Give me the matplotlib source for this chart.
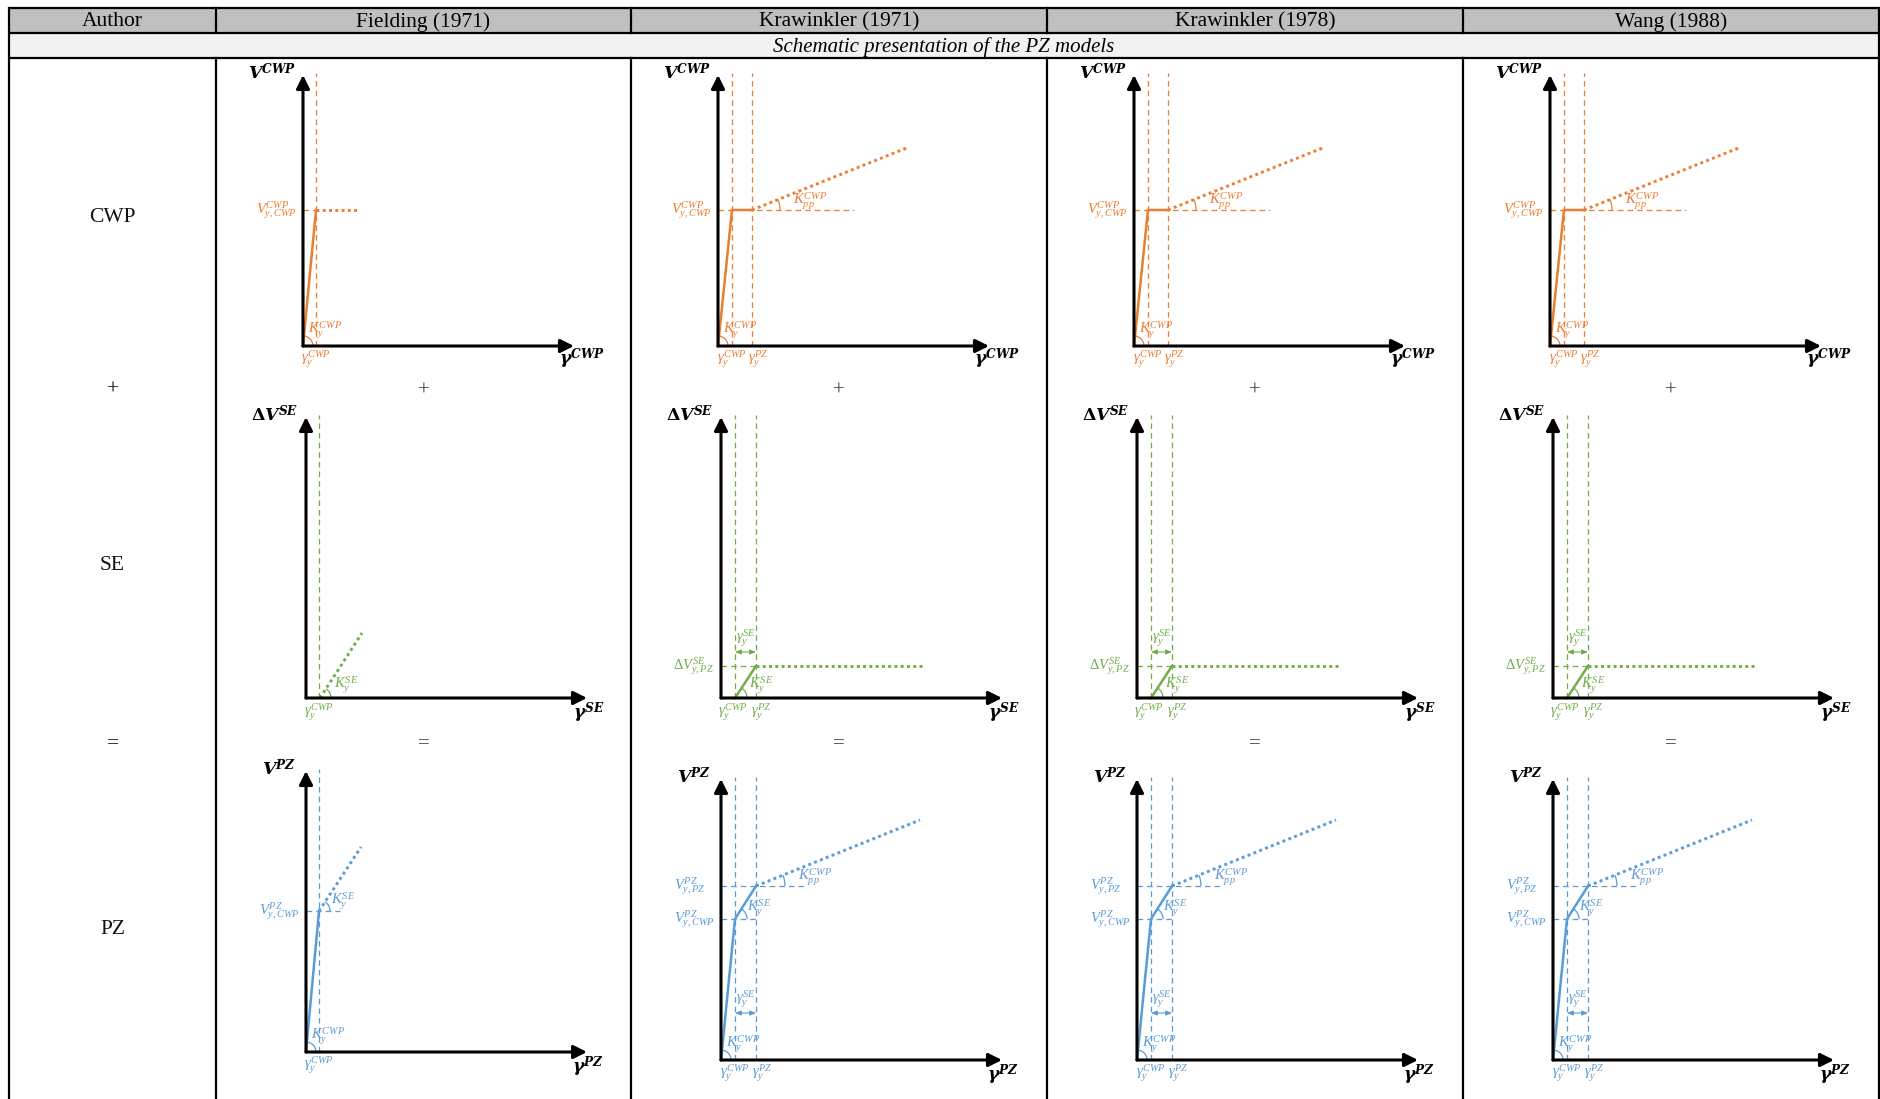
import matplotlib
matplotlib.use("Agg")
import matplotlib.pyplot as plt
import numpy as np
from matplotlib.patches import Arc, Rectangle

plt.rcParams['mathtext.fontset'] = 'custom'
plt.rcParams['mathtext.it'] = 'Liberation Serif:italic'
plt.rcParams['mathtext.rm'] = 'Liberation Serif'
plt.rcParams['mathtext.bf'] = 'DejaVu Serif:bold'
plt.rcParams['mathtext.bfit'] = 'DejaVu Serif:italic:bold'

# ---------------- data (schematic units) ----------------
authors = ["Fielding (1971)", "Krawinkler (1971)", "Krawinkler (1978)", "Wang (1988)"]
row_names = ["CWP", "+", "SE", "=", "PZ"]
subtitle = "Schematic presentation of the PZ models"

# CWP component
cwp_gy = [13, 14, 14, 14]
cwp_gpz = [None, 34, 34, 34]
cwp_vy = [136, 136, 136, 136]
cwp_solid_x = [[0, 13], [0, 14, 34], [0, 14, 34], [0, 14, 34]]
cwp_solid_y = [[0, 136], [0, 136, 136], [0, 136, 136], [0, 136, 136]]
cwp_dot_x = [[13, 54], [34, 191], [34, 191], [34, 191]]
cwp_dot_y = [[136, 136], [136, 199], [136, 199], [136, 199]]
cwp_href_end = [13, 136, 136, 136]

# SE component
se_gy = [13, 14, 14, 14]
se_gpz = [None, 35, 35, 35]
se_vy = [None, 32, 32, 32]
se_solid_x = [[], [14, 35], [14, 35], [14, 35]]
se_solid_y = [[], [0, 32], [0, 32], [0, 32]]
se_dot_x = [[14, 56], [35, 201], [35, 201], [35, 201]]
se_dot_y = [[0, 65], [32, 32], [32, 32], [32, 32]]

# PZ component
pz_gy = [13, 14, 14, 14]
pz_gpz = [None, 35, 35, 35]
pz_vy_cwp = [141, 141, 141, 141]
pz_vy_pz = [None, 174, 174, 174]
pz_solid_x = [[0, 13], [0, 14, 35], [0, 14, 35], [0, 14, 35]]
pz_solid_y = [[0, 141], [0, 141, 174], [0, 141, 174], [0, 141, 174]]
pz_dot_x = [[13, 55], [35, 199], [35, 199], [35, 199]]
pz_dot_y = [[141, 205], [174, 240], [174, 240], [174, 240]]
pz_href_cwp_end = [34, 35, 35, 35]
pz_href_pz_end = [None, 84, 84, 84]

# ---------------- layout ----------------
W, H = 1881, 1099
col_edges = [9, 216, 631, 1047, 1463, 1879]
row_edges = [8, 33, 58]
cwp_origin_y = 346
se_origin_y = 698
pz_origin_y = [1052, 1060, 1060, 1060]
cwp_dx, se_dx, pz_dx = 87, 90, 90

ORANGE = '#ED7D31'
GREEN = '#70AD47'
BLUE = '#5B9BD5'
SERIF = 'Liberation Serif'

fig = plt.figure(figsize=(W / 100, H / 100), dpi=100)
fig.patch.set_facecolor('white')
bg = fig.add_axes([0, 0, 1, 1])
bg.set_xlim(0, W)
bg.set_ylim(H, 0)
bg.axis('off')

# table
bg.add_patch(Rectangle((col_edges[0], row_edges[0]), col_edges[-1] - col_edges[0],
                       row_edges[1] - row_edges[0], facecolor='#BFBFBF', edgecolor='none'))
bg.add_patch(Rectangle((col_edges[0], row_edges[1]), col_edges[-1] - col_edges[0],
                       row_edges[2] - row_edges[1], facecolor='#F2F2F2', edgecolor='none'))
glw = 1.6
for y in row_edges:
    bg.plot([col_edges[0], col_edges[-1]], [y, y], color='black', lw=glw, solid_capstyle='butt')
for i, x in enumerate(col_edges):
    if i in (0, len(col_edges) - 1):
        bg.plot([x, x], [row_edges[0], H + 5], color='black', lw=glw)
    else:
        bg.plot([x, x], [row_edges[0], row_edges[1]], color='black', lw=glw)
        bg.plot([x, x], [row_edges[2], H + 5], color='black', lw=glw)

hy = (row_edges[0] + row_edges[1]) / 2 + 1.5
bg.text((col_edges[0] + col_edges[1]) / 2, hy, "Author", ha='center', va='center',
        fontsize=15.5, family=SERIF)
for i, a in enumerate(authors):
    bg.text((col_edges[i + 1] + col_edges[i + 2]) / 2, hy, a, ha='center', va='center',
            fontsize=15.5, family=SERIF)
bg.text((col_edges[0] + col_edges[-1]) / 2, (row_edges[1] + row_edges[2]) / 2 + 1.5, subtitle,
        ha='center', va='center', fontsize=15, family=SERIF, style='italic')

row_label_y = [218, 390, 566, 744, 929]
lx = (col_edges[0] + col_edges[1]) / 2
for name, y in zip(row_names, row_label_y):
    bg.text(lx, y, name, ha='center', va='center', fontsize=15.5, family=SERIF, color='#111111')
for i in range(4):
    cx = (col_edges[i + 1] + col_edges[i + 2]) / 2
    bg.text(cx, 391, "+", ha='center', va='center', fontsize=15, family=SERIF, color='#404040')
    bg.text(cx, 744, "=", ha='center', va='center', fontsize=15, family=SERIF, color='#404040')

# ---------------- helpers ----------------
S = 300


def panel(ox, oy):
    ax = fig.add_axes([ox / W, 1 - oy / H, S / W, S / H])
    ax.set_xlim(0, S)
    ax.set_ylim(0, S)
    ax.axis('off')
    return ax


def arrows(ax, xtip, ytip):
    kw = dict(arrowstyle='-|>,head_length=0.8,head_width=0.4', lw=2.2, color='black',
              shrinkA=0, shrinkB=0, mutation_scale=10)
    ax.annotate('', xy=(xtip, 0), xytext=(0, 0), arrowprops=kw, annotation_clip=False, zorder=5)
    ax.annotate('', xy=(0, ytip), xytext=(0, 0), arrowprops=kw, annotation_clip=False, zorder=5)


DASH = (0, (4.5, 3.2))
DOT = (0, (1, 1.15))


def vdash(ax, x, top, c):
    ax.plot([x, x], [0, top], color=c, lw=0.9, linestyle=DASH, clip_on=False)


def hdash(ax, y, x1, c):
    ax.plot([0, x1], [y, y], color=c, lw=0.9, linestyle=DASH, clip_on=False)


def curve(ax, sx, sy, dx, dy, c):
    if len(sx):
        ax.plot(sx, sy, color=c, lw=1.8, clip_on=False, zorder=4, solid_joinstyle='miter')
    ax.plot(dx, dy, color=c, lw=2.1, linestyle=DOT, clip_on=False, zorder=4)


def arc(ax, cx, cy, r, x2, y2, c):
    ang = np.degrees(np.arctan2(y2 - cy, x2 - cx))
    ax.add_patch(Arc((cx, cy), 2 * r, 2 * r, theta1=0, theta2=ang, color=c, lw=0.9, clip_on=False))


def lab(ax, x, y, s, c, ha='left', fs=10.5):
    ax.text(x, y, s, color=c, ha=ha, va='center', fontsize=fs, clip_on=False)


def axlab(ax, x, y, s):
    ax.text(x, y, s, color='black', ha='center', va='center', fontsize=12.5, clip_on=False)


def dim(ax, x1, x2, y, c):
    ax.annotate('', xy=(x2, y), xytext=(x1, y),
                arrowprops=dict(arrowstyle='<|-|>,head_length=0.5,head_width=0.2', lw=0.8,
                                color=c, shrinkA=0, shrinkB=0, mutation_scale=7),
                annotation_clip=False)


# ---------------- panels ----------------
for i in range(4):
    left = col_edges[i + 1]

    # CWP
    c = ORANGE
    ax = panel(left + cwp_dx, cwp_origin_y)
    vdash(ax, cwp_gy[i], 273, c)
    if cwp_gpz[i] is not None:
        vdash(ax, cwp_gpz[i], 273, c)
    hdash(ax, cwp_vy[i], cwp_href_end[i], c)
    curve(ax, cwp_solid_x[i], cwp_solid_y[i], cwp_dot_x[i], cwp_dot_y[i], c)
    arrows(ax, 271, 271)
    arc(ax, 0, 0, 10, cwp_solid_x[i][1], cwp_solid_y[i][1], c)
    axlab(ax, -31, 273, r'$\mathbfit{V}^{\mathbfit{CWP}}$')
    axlab(ax, 279, -13, r'$\mathbfit{\gamma}^{\mathbfit{CWP}}$')
    lab(ax, -47, cwp_vy[i], r'$V_{y,CWP}^{CWP}$', c)
    lab(ax, 5, 16, r'$K_y^{CWP}$', c)
    lab(ax, cwp_gy[i], -13, r'$\gamma_y^{CWP}$', c, ha='center')
    if cwp_gpz[i] is not None:
        lab(ax, cwp_gpz[i] + 6, -13, r'$\gamma_y^{PZ}$', c, ha='center')
        lab(ax, cwp_gpz[i] + 41, cwp_vy[i] + 9, r'$K_{pp}^{CWP}$', c)
        arc(ax, cwp_dot_x[i][0], cwp_dot_y[i][0], 28, cwp_dot_x[i][1], cwp_dot_y[i][1], c)

    # SE
    c = GREEN
    ax = panel(left + se_dx, se_origin_y)
    vdash(ax, se_gy[i], 283, c)
    if se_gpz[i] is not None:
        vdash(ax, se_gpz[i], 283, c)
        hdash(ax, se_vy[i], se_gpz[i], c)
    curve(ax, se_solid_x[i], se_solid_y[i], se_dot_x[i], se_dot_y[i], c)
    arrows(ax, 281, 281)
    axlab(ax, -31, 283, r'$\mathbf{\Delta}\mathbfit{V}^{\mathbfit{SE}}$')
    axlab(ax, 283, -15, r'$\mathbfit{\gamma}^{\mathbfit{SE}}$')
    lab(ax, 28, 13, r'$K_y^{SE}$', c)
    if se_gpz[i] is None:
        arc(ax, se_dot_x[i][0], 0, 11, se_dot_x[i][1], se_dot_y[i][1], c)
        lab(ax, se_gy[i], -14, r'$\gamma_y^{CWP}$', c, ha='center')
    else:
        arc(ax, se_solid_x[i][0], 0, 12, se_solid_x[i][1], se_solid_y[i][1], c)
        dim(ax, se_gy[i], se_gpz[i], 46, c)
        lab(ax, (se_gy[i] + se_gpz[i]) / 2, 60, r'$\gamma_y^{SE}$', c, ha='center')
        lab(ax, -48, se_vy[i], r'$\Delta V_{y,PZ}^{SE}$', c)
        lab(ax, se_gy[i] - 2, -14, r'$\gamma_y^{CWP}$', c, ha='center')
        lab(ax, se_gpz[i] + 5, -14, r'$\gamma_y^{PZ}$', c, ha='center')

    # PZ
    c = BLUE
    ax = panel(left + pz_dx, pz_origin_y[i])
    vdash(ax, pz_gy[i], 283, c)
    hdash(ax, pz_vy_cwp[i], pz_href_cwp_end[i], c)
    if pz_gpz[i] is not None:
        vdash(ax, pz_gpz[i], 283, c)
        hdash(ax, pz_vy_pz[i], pz_href_pz_end[i], c)
    curve(ax, pz_solid_x[i], pz_solid_y[i], pz_dot_x[i], pz_dot_y[i], c)
    arrows(ax, 281, 281)
    axlab(ax, -27, 283, r'$\mathbfit{V}^{\mathbfit{PZ}}$')
    axlab(ax, 282, -15, r'$\mathbfit{\gamma}^{\mathbfit{PZ}}$')
    arc(ax, 0, 0, 10, pz_solid_x[i][1], pz_solid_y[i][1], c)
    lab(ax, 5, 16, r'$K_y^{CWP}$', c)
    lab(ax, pz_gy[i], -13, r'$\gamma_y^{CWP}$', c, ha='center')
    lab(ax, -47, pz_vy_cwp[i], r'$V_{y,CWP}^{PZ}$', c)
    if pz_gpz[i] is None:
        arc(ax, pz_dot_x[i][0], pz_dot_y[i][0], 11, pz_dot_x[i][1], pz_dot_y[i][1], c)
        lab(ax, pz_gy[i] + 12, pz_vy_cwp[i] + 10, r'$K_y^{SE}$', c)
    else:
        arc(ax, pz_solid_x[i][1], pz_solid_y[i][1], 12, pz_solid_x[i][2], pz_solid_y[i][2], c)
        arc(ax, pz_dot_x[i][0], pz_dot_y[i][0], 29, pz_dot_x[i][1], pz_dot_y[i][1], c)
        lab(ax, pz_gy[i] + 12, pz_vy_cwp[i] + 11, r'$K_y^{SE}$', c)
        lab(ax, -47, pz_vy_pz[i], r'$V_{y,PZ}^{PZ}$', c)
        lab(ax, pz_gpz[i] + 42, pz_vy_pz[i] + 9, r'$K_{pp}^{CWP}$', c)
        dim(ax, pz_gy[i], pz_gpz[i], 47, c)
        lab(ax, (pz_gy[i] + pz_gpz[i]) / 2, 61, r'$\gamma_y^{SE}$', c, ha='center')
        lab(ax, pz_gpz[i] + 6, -13, r'$\gamma_y^{PZ}$', c, ha='center')

fig.savefig('out.png', dpi=100, facecolor='white')
